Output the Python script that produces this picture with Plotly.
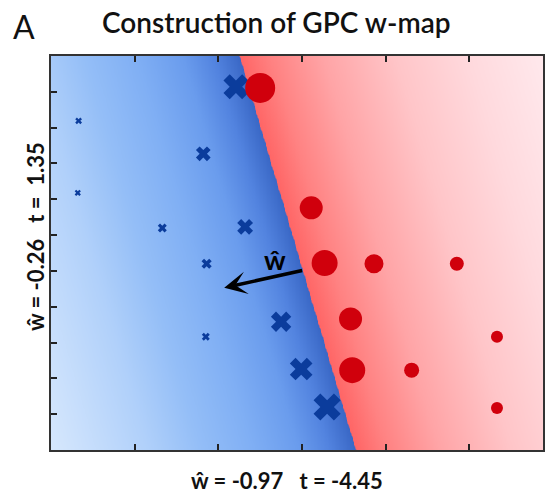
import numpy as np
import plotly.graph_objects as go

# ---- data -------------------------------------------------------------
# class "-" samples (blue crosses)
neg_x = [2.21, 0.33, 1.82, 0.32, 1.33, 2.32, 1.86, 1.85, 2.75, 2.99, 3.30]
neg_y = [10.14, 9.19, 8.27, 7.18, 6.20, 6.23, 5.20, 3.16, 3.58, 2.26, 1.20]
neg_size = [22, 6, 13, 5.5, 8, 14, 9, 7, 18, 20, 24]

# class "+" samples (red circles)
pos_x = [2.50, 3.11, 3.27, 3.86, 3.58, 3.60, 4.85, 5.33, 4.31, 5.33]
pos_y = [10.11, 6.76, 5.22, 5.20, 3.66, 2.23, 5.20, 3.16, 2.23, 1.17]
pos_size = [30, 23, 26, 19, 23, 26, 14, 12, 15, 12]

# decision boundary: where it crosses the top / bottom edges
boundary_top = (2.25, 11.0)
boundary_bottom = (3.64, 0.0)

# w-hat arrow (tail on the boundary, head into the "-" class)
arrow_tail = (3.02, 5.02)
arrow_head = (2.07, 4.53)

x_ticks = [1, 2, 3, 4, 5]
y_ticks = [1, 2, 3, 4, 5, 6, 7, 8, 9, 10]

x_label = "ŵ\u00a0=\u00a0-0.97\u00a0\u00a0\u00a0t\u00a0=\u00a0-4.45"
y_label = "ŵ\u00a0=\u00a0-0.26\u00a0\u00a0\u00a0t\u00a0=\u00a0\u00a01.35"

# ---- layout geometry --------------------------------------------------
W, H = 546, 495
ML, MR, MT, MB = 51, 1, 56, 45
PW, PH = W - ML - MR, H - MT - MB
X_RANGE = (0, 5.88)
Y_RANGE = (0, 11)
sx = PW / (X_RANGE[1] - X_RANGE[0])
sy = PH / (Y_RANGE[1] - Y_RANGE[0])


def px_to_paper(px, py):
    """Convert a page-pixel position to paper coordinates."""
    return (px - ML) / PW, ((MT + PH) - py) / PH


# ---- background: signed distance to the boundary (screen units) -------
gx = np.linspace(X_RANGE[0] - 0.02, X_RANGE[1] + 0.02, 360)
gy = np.linspace(Y_RANGE[0] - 0.05, Y_RANGE[1] + 0.05, 300)
GX, GY = np.meshgrid(gx, gy)
p0 = np.array([boundary_top[0] * sx, boundary_top[1] * sy])
d = np.array([(boundary_bottom[0] - boundary_top[0]) * sx,
              (boundary_bottom[1] - boundary_top[1]) * sy])
n = np.array([-d[1], d[0]]) / np.hypot(*d)
Z = (GX * sx - p0[0]) * n[0] + (GY * sy - p0[1]) * n[1]

ZMAX = 300.0
stops = [
    (-300, "rgb(217,233,253)"),
    (-200, "rgb(176,208,250)"),
    (-150, "rgb(148,190,247)"),
    (-100, "rgb(128,175,244)"),
    (-55, "rgb(106,156,237)"),
    (-25, "rgb(82,131,223)"),
    (-0.5, "rgb(58,104,198)"),
    (0.5, "rgb(255,102,102)"),
    (30, "rgb(255,130,130)"),
    (80, "rgb(255,164,166)"),
    (150, "rgb(255,197,200)"),
    (220, "rgb(255,217,221)"),
    (300, "rgb(255,234,238)"),
]
colorscale = [[(v + ZMAX) / (2 * ZMAX), c] for v, c in stops]

fig = go.Figure()
fig.add_trace(go.Heatmap(
    x=gx, y=gy, z=Z, zmin=-ZMAX, zmax=ZMAX, colorscale=colorscale,
    zsmooth="best", showscale=False, hoverinfo="skip",
))
fig.add_trace(go.Scatter(
    x=neg_x, y=neg_y, mode="markers",
    marker=dict(symbol="x", size=neg_size, color="#0b3c9c", opacity=1,
                line=dict(width=0)),
    showlegend=False,
))
fig.add_trace(go.Scatter(
    x=pos_x, y=pos_y, mode="markers",
    marker=dict(symbol="circle", size=pos_size, color="#d0000c", opacity=1,
                line=dict(width=0)),
    showlegend=False,
))

axis_common = dict(
    showgrid=False, zeroline=False, showticklabels=False,
    ticks="inside", ticklen=6, tickwidth=2, tickcolor="#222",
    showline=True, linecolor="#333", linewidth=2,
)
fig.update_xaxes(range=list(X_RANGE), tickvals=x_ticks, mirror="ticks", **axis_common)
fig.update_yaxes(range=list(Y_RANGE), tickvals=y_ticks, mirror=True, **axis_common)

tx, ty = px_to_paper(277.5, 22)
ax_, ay_ = px_to_paper(24, 27)
lx, ly = px_to_paper(287.5, 480)
vx, vy = px_to_paper(35, 237)

annotations = [
    # arrow for w-hat
    dict(x=arrow_head[0], y=arrow_head[1], ax=arrow_tail[0], ay=arrow_tail[1],
         xref="x", yref="y", axref="x", ayref="y", text="", showarrow=True,
         arrowhead=3, arrowwidth=3.6, arrowsize=1.05, arrowcolor="black"),
    dict(x=2.68, y=5.33, xref="x", yref="y", text="<b>ŵ</b>", showarrow=False,
         xanchor="center", yanchor="middle",
         font=dict(family="Lato", size=27, color="black")),
    # title and panel letter
    dict(x=tx, y=ty, xref="paper", yref="paper",
         text="Construction of GPC w-map", showarrow=False,
         xanchor="center", yanchor="middle",
         font=dict(family="Lato", size=28, weight=600, color="#111")),
    dict(x=ax_, y=ay_, xref="paper", yref="paper",
         text="A", showarrow=False, xanchor="center", yanchor="middle",
         font=dict(family="Lato", size=32, color="#111")),
    # axis labels
    dict(x=lx, y=ly, xref="paper", yref="paper",
         text="<b>" + x_label + "</b>", showarrow=False,
         xanchor="center", yanchor="middle", borderpad=0,
         font=dict(family="Lato", size=22, color="#111")),
    dict(x=vx, y=vy, xref="paper", yref="paper",
         text="<b>" + y_label + "</b>", showarrow=False, textangle=-90,
         xanchor="center", yanchor="middle", borderpad=0,
         font=dict(family="Lato", size=22, color="#111")),
]

fig.update_layout(
    width=W, height=H,
    margin=dict(l=ML, r=MR, t=MT, b=MB),
    paper_bgcolor="white", plot_bgcolor="white",
    annotations=annotations, showlegend=False,
)

fig.write_html("out.html")
